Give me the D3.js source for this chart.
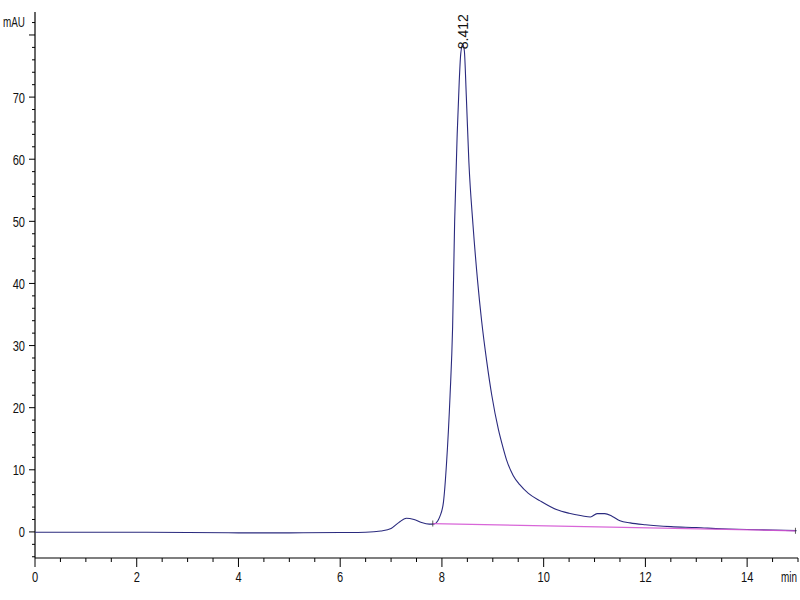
<!DOCTYPE html>
<html><head><meta charset="utf-8">
<script src="https://cdn.jsdelivr.net/npm/d3@7"></script>
<style>
body{margin:0;background:#fff;}
svg{display:block;}
text{font-family:"Liberation Sans","Arial",sans-serif;fill:#111;}
</style></head><body>
<svg id="c" width="800" height="600"></svg>
<script>
const times = [0,1,2,3,4,5,6,6.5,6.8,7.0,7.15,7.3,7.45,7.6,7.75,7.85,7.92,7.96,8.03,8.09,8.16,8.21,8.25,8.3,8.34,8.37,8.41,8.44,8.48,8.53,8.61,8.7,8.78,8.88,8.98,9.11,9.2,9.27,9.4,9.53,9.7,9.93,10.25,10.5,10.75,10.92,11.05,11.2,11.35,11.5,11.7,12.0,12.5,13.0,13.5,14.0,14.5,14.97];
const signal = [-0.05,-0.05,-0.05,-0.1,-0.15,-0.15,-0.1,-0.05,0.15,0.55,1.5,2.2,2.0,1.5,1.25,1.3,1.8,2.5,4.8,11,22,33,50,64,72.5,77,78.5,77.5,70,59.5,49.5,40.5,34,27.5,22,16.5,13.6,11.6,9.1,7.6,6.2,5.0,3.6,3.0,2.6,2.4,2.95,2.95,2.5,1.8,1.45,1.15,0.85,0.7,0.5,0.4,0.28,0.2];
const baselineTimes = [7.82, 14.95];
const baselineValues = [1.35, 0.18];
const peakLabel = "8.412";
const peakTime = 8.412;
const peakValue = 78.5;
const xTickLabels = [0,2,4,6,8,10,12,14];
const yTickLabels = [0,10,20,30,40,50,60,70];
const yUnit = "mAU";
const xUnit = "min";

const svg = d3.select("#c");
const x = d3.scaleLinear().domain([0,15]).range([35,798]);
const y = d3.scaleLinear().domain([-4.2,83.7]).range([558,12]);

const g = svg.append("g");
function label(px, py, txt, size, anchor, sx){
  g.append("text")
   .attr("transform",`translate(${px},${py}) scale(${sx},1)`)
   .attr("dy","0.36em").attr("text-anchor",anchor)
   .style("font-size",size+"px").text(txt);
}
// axes lines
g.append("line").attr("x1",35).attr("x2",35).attr("y1",y(83.7)).attr("y2",y(-4.2)).attr("stroke","#000").attr("stroke-width",1.2);
g.append("line").attr("x1",35).attr("x2",x(15)).attr("y1",558).attr("y2",558).attr("stroke","#000").attr("stroke-width",1.2);

// y ticks
d3.range(-4, 84, 2).forEach(v=>{
  const major = v % 10 === 0;
  g.append("line").attr("x1",35).attr("x2",major?29:32).attr("y1",y(v)).attr("y2",y(v)).attr("stroke","#000").attr("stroke-width",1);
});
yTickLabels.forEach(v=> label(25, y(v), v, 15, "end", 0.74));
label(25, 22, yUnit, 15, "end", 0.66);

// x ticks
d3.range(0, 15.01, 0.5).forEach(v=>{
  const major = Math.abs(v % 2) < 1e-9;
  g.append("line").attr("x1",x(v)).attr("x2",x(v)).attr("y1",558).attr("y2",major?567:562).attr("stroke","#000").attr("stroke-width",1);
});
xTickLabels.forEach(v=> label(x(v), 577, v, 15, "middle", 0.74));
label(797, 577, xUnit, 15, "end", 0.66);

// curve
const data = times.map((t,i)=>[t,signal[i]]);
const line = d3.line().x(d=>x(d[0])).y(d=>y(d[1])).curve(d3.curveMonotoneX);
g.append("path").attr("d",line(data)).attr("fill","none").attr("stroke","#2a2a7e").attr("stroke-width",1.1);

// baseline
const bl = baselineTimes.map((t,i)=>[t,baselineValues[i]]);
g.append("path").attr("d",d3.line().x(d=>x(d[0])).y(d=>y(d[1]))(bl)).attr("fill","none").attr("stroke","#d455d4").attr("stroke-width",1.2).attr("opacity",0.9);
bl.forEach(d=>{
  g.append("line").attr("x1",x(d[0])).attr("x2",x(d[0])).attr("y1",y(d[1])-3).attr("y2",y(d[1])+3).attr("stroke","#333").attr("stroke-width",0.8);
});

// peak label
g.append("text").attr("transform",`translate(${x(peakTime)+5},${y(peakValue)+5}) rotate(-90)`)
 .attr("text-anchor","start").style("font-size","14px").text(peakLabel);
</script>
</body></html>
